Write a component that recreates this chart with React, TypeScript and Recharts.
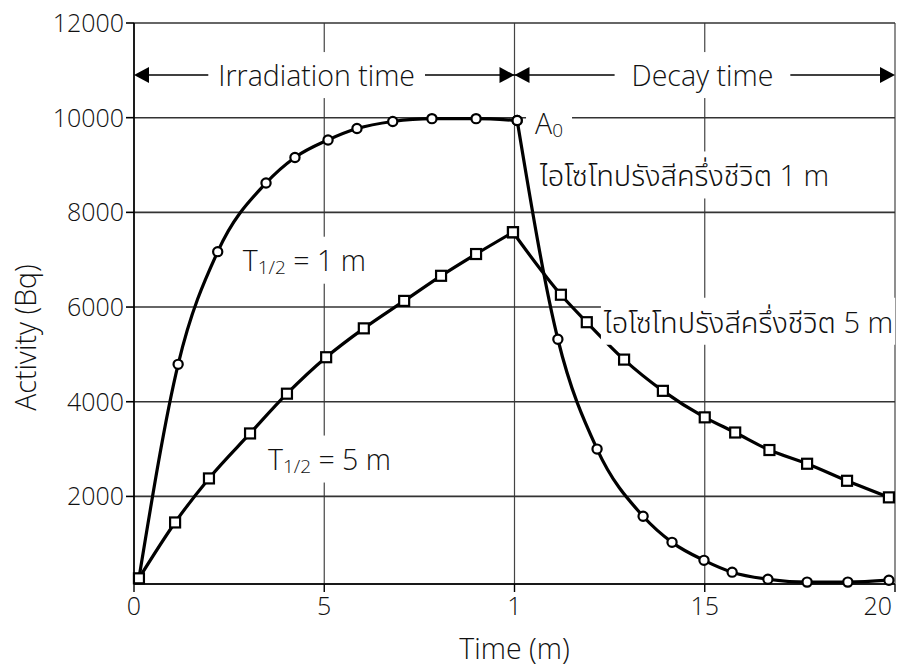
import { useLayoutEffect, useRef, useState } from "react";
import {
  LineChart,
  Line,
  XAxis,
  YAxis,
  CartesianGrid,
  ReferenceLine,
  ReferenceDot,
} from "recharts";

// half-life 1 m (circles): build-up, then decay
const shortRiseX = [0.13, 1.16, 2.2, 3.47, 4.23, 5.1, 5.86, 6.8, 7.83, 8.99, 10.07];
const shortRiseY = [270, 4790, 7170, 8620, 9160, 9530, 9770, 9920, 9980, 9980, 9940];
const shortDecayX = [10.07, 11.14, 12.17, 13.38, 14.14, 14.98, 15.72, 16.66, 17.69, 18.76, 19.84];
const shortDecayY = [9940, 5320, 3000, 1580, 1030, 650, 400, 250, 190, 190, 230];

// half-life 5 m (squares): build-up, then decay
const longRiseX = [0.13, 1.08, 1.97, 3.05, 4.02, 5.05, 6.04, 7.1, 8.07, 8.99, 9.96];
const longRiseY = [270, 1450, 2380, 3330, 4170, 4940, 5550, 6130, 6660, 7120, 7580];
const longDecayX = [9.96, 11.22, 11.9, 12.88, 13.9, 15.0, 15.8, 16.7, 17.69, 18.74, 19.84];
const longDecayY = [7580, 6260, 5680, 4890, 4230, 3670, 3350, 2980, 2690, 2330, 1980];

const xTicks = [0, 5, 10, 15, 20];
const xTickLabels = ["0", "5", "1", "15", "20"];
const yTicks = [2000, 4000, 6000, 8000, 10000, 12000];

const pairs = (xs: number[], ys: number[]) => xs.map((t, i) => ({ t, v: ys[i] }));
const shortRise = pairs(shortRiseX, shortRiseY);
const shortDecay = pairs(shortDecayX, shortDecayY);
const longRise = pairs(longRiseX, longRiseY);
const longDecay = pairs(longDecayX, longDecayY);

const FONT = "'Open Sans', 'Noto Sans', 'Noto Sans Thai', sans-serif";
const WEIGHT = 300;
const INK = "#111";
const BIG = 28.5;

function BoxText({ cx, cy, anchor = "start", padX = 6, padY = 4, size = BIG, children }: any) {
  const ref = useRef<SVGTextElement>(null);
  const [box, setBox] = useState<any>(null);
  useLayoutEffect(() => {
    if (ref.current) {
      const b = ref.current.getBBox();
      setBox({ x: b.x, y: b.y, w: b.width, h: b.height });
    }
  }, [cx, cy]);
  return (
    <g>
      {box && (
        <rect
          x={box.x - padX}
          y={box.y - padY}
          width={box.w + padX * 2}
          height={box.h + padY * 2}
          fill="#fff"
        />
      )}
      <text
        ref={ref}
        x={cx}
        y={cy}
        textAnchor={anchor}
        dominantBaseline="central"
        fontFamily={FONT}
        fontWeight={WEIGHT}
        fontSize={size}
        fill={INK}
      >
        {children}
      </text>
    </g>
  );
}

function Arrow({ cx, cy, dir }: any) {
  const len = 15;
  const half = 8;
  const base = dir === "left" ? cx + len : cx - len;
  return <polygon points={`${cx},${cy} ${base},${cy - half} ${base},${cy + half}`} fill="#000" />;
}

function SquareDot({ cx, cy }: any) {
  if (cx == null || cy == null) return null;
  return <rect x={cx - 5} y={cy - 5} width={10} height={10} fill="#fff" stroke="#000" strokeWidth={2.2} />;
}

function XTick({ x, y, payload }: any) {
  const last = payload.value === xTicks[xTicks.length - 1];
  return (
    <text
      x={last ? x - 2 : x}
      y={y}
      dy={17}
      textAnchor={last ? "end" : "middle"}
      fontFamily={FONT}
      fontWeight={WEIGHT}
      fontSize={25}
      fill={INK}
    >
      {xTickLabels[xTicks.indexOf(payload.value)]}
    </text>
  );
}

const ARROW_Y = 10900;
const circleDot = { r: 4.6, fill: "#fff", stroke: "#000", strokeWidth: 2.2 };

export default function App() {
  return (
    <div style={{ position: "absolute", left: 0, top: 0, background: "#fff" }}>
      <LineChart
        width={902}
        height={667}
        margin={{ top: 23, right: 7, bottom: 0, left: 0 }}
      >
        <CartesianGrid horizontal={false} vertical stroke="#444" strokeWidth={1.2} />
        <CartesianGrid horizontal vertical={false} stroke="#333" strokeWidth={1.6} />
        <XAxis
          type="number"
          dataKey="t"
          domain={[0, 20]}
          ticks={xTicks}
          height={83}
          axisLine={{ stroke: "#000", strokeWidth: 1.6 }}
          tickLine={{ stroke: "#000", strokeWidth: 1.4 }}
          tickSize={8}
          tickMargin={6}
          tick={<XTick />}
          label={{
            value: "Time (m)",
            position: "insideBottom",
            offset: 8,
            style: { fontFamily: FONT, fontWeight: WEIGHT, fontSize: BIG, fill: INK },
          }}
        />
        <YAxis
          type="number"
          domain={[150, 12000]}
          ticks={yTicks}
          width={134}
          axisLine={{ stroke: "#000", strokeWidth: 1.6 }}
          tickLine={{ stroke: "#000", strokeWidth: 1.6 }}
          tickSize={8}
          tickMargin={2}
          tick={{ fontFamily: FONT, fontWeight: WEIGHT, fontSize: 25, fill: INK }}
          label={{
            content: ({ viewBox }: any) => {
              const x = viewBox.x + 25;
              const y = viewBox.y + viewBox.height / 2 + 34;
              return (
                <text
                  x={x}
                  y={y}
                  transform={`rotate(-90 ${x} ${y})`}
                  textAnchor="middle"
                  dominantBaseline="central"
                  fontFamily={FONT}
                  fontWeight={WEIGHT}
                  fontSize={BIG}
                  fill={INK}
                >
                  Activity (Bq)
                </text>
              );
            },
          }}
        />

        <ReferenceLine
          segment={[{ x: 0.3, y: ARROW_Y }, { x: 19.7, y: ARROW_Y }]}
          stroke="#000"
          strokeWidth={1.5}
        />
        <ReferenceDot x={0} y={ARROW_Y} shape={(p: any) => <Arrow {...p} dir="left" />} />
        <ReferenceDot x={10} y={ARROW_Y} shape={(p: any) => <Arrow {...p} dir="right" />} />
        <ReferenceDot x={10} y={ARROW_Y} shape={(p: any) => <Arrow {...p} dir="left" />} />
        <ReferenceDot x={20} y={ARROW_Y} shape={(p: any) => <Arrow {...p} dir="right" />} />

        <ReferenceDot
          x={4.8}
          y={ARROW_Y}
          shape={(p: any) => (
            <BoxText cx={p.cx} cy={p.cy} anchor="middle" padX={10}>
              Irradiation time
            </BoxText>
          )}
        />
        <ReferenceDot
          x={14.94}
          y={ARROW_Y}
          shape={(p: any) => (
            <BoxText cx={p.cx} cy={p.cy} anchor="middle" padX={17}>
              Decay time
            </BoxText>
          )}
        />
        <ReferenceDot
          x={10.54}
          y={9880}
          shape={(p: any) => (
            <BoxText cx={p.cx} cy={p.cy} padX={9}>
              A<tspan fontSize={19} dy={7}>0</tspan>
            </BoxText>
          )}
        />
        <ReferenceDot
          x={10.67}
          y={8790}
          shape={(p: any) => (
            <BoxText cx={p.cx} cy={p.cy} size={29}>
              ไอโซโทปรังสีครึ่งชีวิต 1 m
            </BoxText>
          )}
        />
        <ReferenceDot
          x={12.35}
          y={5700}
          shape={(p: any) => (
            <BoxText cx={p.cx} cy={p.cy} padX={2} size={29}>
              ไอโซโทปรังสีครึ่งชีวิต 5 m
            </BoxText>
          )}
        />
        <ReferenceDot
          x={2.86}
          y={7000}
          shape={(p: any) => (
            <BoxText cx={p.cx} cy={p.cy}>
              T<tspan fontSize={19} dy={7}>1/2</tspan>
              <tspan dy={-7}> = 1 m</tspan>
            </BoxText>
          )}
        />
        <ReferenceDot
          x={3.52}
          y={2800}
          shape={(p: any) => (
            <BoxText cx={p.cx} cy={p.cy}>
              T<tspan fontSize={19} dy={7}>1/2</tspan>
              <tspan dy={-7}> = 5 m</tspan>
            </BoxText>
          )}
        />

        <Line data={shortRise} dataKey="v" type="monotone" stroke="#000" strokeWidth={3.2}
          dot={circleDot} activeDot={false} isAnimationActive={false} />
        <Line data={shortDecay} dataKey="v" type="monotone" stroke="#000" strokeWidth={3.2}
          dot={circleDot} activeDot={false} isAnimationActive={false} />
        <Line data={longRise} dataKey="v" type="monotone" stroke="#000" strokeWidth={3.2}
          dot={(p: any) => <SquareDot key={p.index} cx={p.cx} cy={p.cy} />}
          activeDot={false} isAnimationActive={false} />
        <Line data={longDecay} dataKey="v" type="monotone" stroke="#000" strokeWidth={3.2}
          dot={(p: any) => <SquareDot key={p.index} cx={p.cx} cy={p.cy} />}
          activeDot={false} isAnimationActive={false} />
      </LineChart>
    </div>
  );
}
